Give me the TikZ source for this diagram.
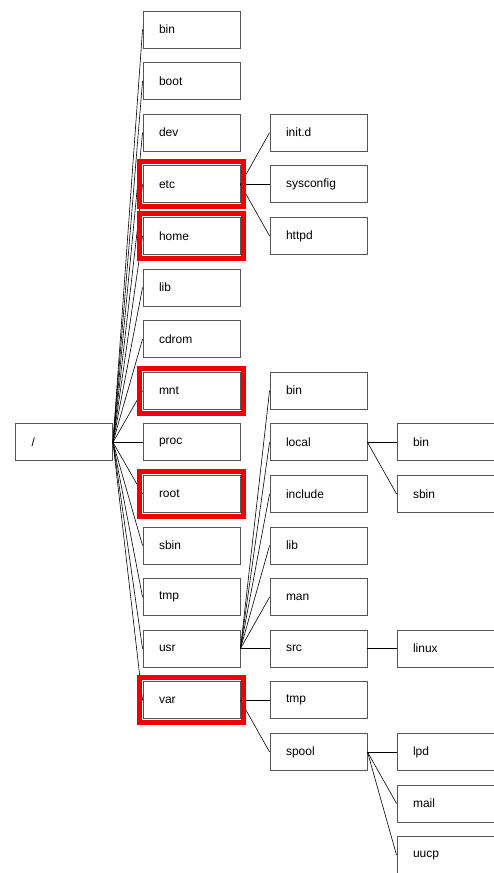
\documentclass[tikz,border=0pt]{standalone}
\usepackage{fontspec}
\setmainfont{Liberation Sans}
\usetikzlibrary{fit}
\definecolor{boxgray}{HTML}{555555}
\definecolor{markred}{HTML}{F00000}

\begin{document}
\begin{tikzpicture}[x=1pt, y=1pt,
  dir/.style={draw=boxgray, line width=0.9pt, fill=white, rectangle,
    minimum width=97pt, minimum height=37pt, text width=65pt,
    inner xsep=16pt, inner ysep=0pt, align=left,
    font=\fontsize{12}{14}\selectfont},
  link/.style={draw=black, line width=0.6pt},
  marked/.style={draw=markred, line width=5pt, inner sep=3.5pt}]
\clip (0,0) rectangle (494,-873);
\useasboundingbox (0,0) rectangle (494,-873);

% root
\node[dir] (root) at (64,-442.3) {/};

% first level
\node[dir] (bin)   at (191.5,-29.5)  {bin};
\node[dir] (boot)  at (191.5,-81.1)  {boot};
\node[dir] (dev)   at (191.5,-132.7) {dev};
\node[dir] (etc)   at (191.5,-184.3) {etc};
\node[dir] (home)  at (191.5,-235.9) {home};
\node[dir] (lib)   at (191.5,-287.5) {lib};
\node[dir] (cdrom) at (191.5,-339.1) {cdrom};
\node[dir] (mnt)   at (191.5,-390.7) {mnt};
\node[dir] (proc)  at (191.5,-442.3) {proc};
\node[dir] (rootd) at (191.5,-493.9) {root};
\node[dir] (sbin)  at (191.5,-545.5) {sbin};
\node[dir] (tmp)   at (191.5,-597.1) {tmp};
\node[dir] (usr)   at (191.5,-648.7) {usr};
\node[dir] (var)   at (191.5,-700.3) {var};

% second level
\node[dir] (initd)     at (318.5,-132.7) {init.d};
\node[dir] (sysconfig) at (318.5,-184.3) {sysconfig};
\node[dir] (httpd)     at (318.5,-235.9) {httpd};
\node[dir] (usrbin)    at (318.5,-390.7) {bin};
\node[dir] (local)     at (318.5,-442.3) {local};
\node[dir] (include)   at (318.5,-493.9) {include};
\node[dir] (usrlib)    at (318.5,-545.5) {lib};
\node[dir] (man)       at (318.5,-597.1) {man};
\node[dir] (src)       at (318.5,-648.7) {src};
\node[dir] (vartmp)    at (318.5,-700.3) {tmp};
\node[dir] (spool)     at (318.5,-751.9) {spool};

% third level
\node[dir] (localbin)  at (445.5,-442.3) {bin};
\node[dir] (localsbin) at (445.5,-493.9) {sbin};
\node[dir] (linux)     at (445.5,-648.7) {linux};
\node[dir] (lpd)       at (445.5,-751.9) {lpd};
\node[dir] (mail)      at (445.5,-803.5) {mail};
\node[dir] (uucp)      at (445.5,-855.1) {uucp};

% connectors
\foreach \d in {bin,boot,dev,etc,home,lib,cdrom,mnt,proc,rootd,sbin,tmp,usr,var}
  \draw[link] (root.east) -- (\d.west);
\foreach \d in {initd,sysconfig,httpd}
  \draw[link] (etc.east) -- (\d.west);
\foreach \d in {usrbin,local,include,usrlib,man,src}
  \draw[link] (usr.east) -- (\d.west);
\foreach \d in {vartmp,spool}
  \draw[link] (var.east) -- (\d.west);
\foreach \d in {localbin,localsbin}
  \draw[link] (local.east) -- (\d.west);
\draw[link] (src.east) -- (linux.west);
\foreach \d in {lpd,mail,uucp}
  \draw[link] (spool.east) -- (\d.west);

% highlighted directories
\node[marked, fit=(etc)] (etcmark) {};
\node[marked, fit=(home)] (homemark) {};
\node[marked, fit=(mnt)] (mntmark) {};
\node[marked, fit=(rootd)] (rootmark) {};
\node[marked, fit=(var)] (varmark) {};
\end{tikzpicture}
\end{document}
